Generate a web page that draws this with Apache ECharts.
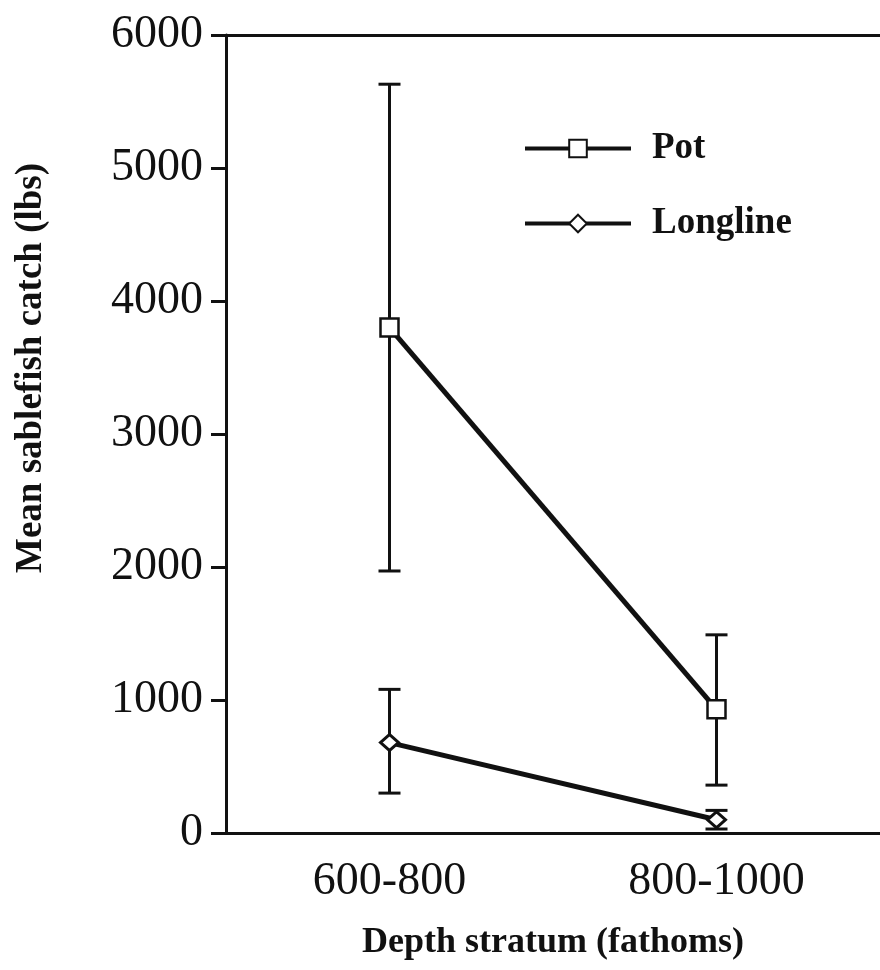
<!DOCTYPE html>
<html>
<head>
<meta charset="utf-8">
<script src="https://cdn.jsdelivr.net/npm/echarts@6/dist/echarts.min.js"></script>
<style>
  html, body { margin: 0; padding: 0; background: #fff; }
  #chart { width: 880px; height: 970px; }
</style>
</head>
<body>
<div id="chart"></div>
<script>
// depth strata on the x axis
const depthStrata = ['600-800', '800-1000'];

// mean catch (lbs) and error bar ends
const potMean = [3800, 930];
const potLow = [1970, 360];
const potHigh = [5630, 1490];
const longlineMean = [680, 100];
const longlineLow = [300, 30];
const longlineHigh = [1080, 170];

const serif = '"Liberation Serif", "DejaVu Serif", serif';
const ink = '#111';

// vertical whisker with caps, drawn through the axes
function errorBars(name, low, high) {
  return {
    type: 'custom',
    name: name + ' error',
    z: 1,
    silent: true,
    data: depthStrata.map((c, i) => [i, low[i], high[i]]),
    encode: { x: 0, y: [1, 2] },
    renderItem: (params, api) => {
      const lo = api.coord([api.value(0), api.value(1)]);
      const hi = api.coord([api.value(0), api.value(2)]);
      const half = 11;
      const style = { stroke: ink, lineWidth: 3, fill: null };
      return {
        type: 'group',
        children: [
          { type: 'line', shape: { x1: hi[0], y1: hi[1], x2: lo[0], y2: lo[1] }, style },
          { type: 'line', shape: { x1: hi[0] - half, y1: hi[1], x2: hi[0] + half, y2: hi[1] }, style },
          { type: 'line', shape: { x1: lo[0] - half, y1: lo[1], x2: lo[0] + half, y2: lo[1] }, style }
        ]
      };
    }
  };
}

const chart = echarts.init(document.getElementById('chart'));

const option = {
  backgroundColor: '#fff',
  animation: false,
  grid: { left: 226, right: 0, top: 35, bottom: 137 },
  legend: {
    data: ['Pot', 'Longline'],
    orient: 'vertical',
    left: 518,
    top: 125,
    itemWidth: 106,
    itemHeight: 22,
    itemGap: 38,
    lineStyle: { width: 4, color: ink },
    textStyle: { fontFamily: serif, fontSize: 37, fontWeight: 'bold', color: ink, padding: [0, 0, 0, 16] }
  },
  xAxis: [
    {
      type: 'category',
      data: depthStrata,
      position: 'bottom',
      axisLine: { lineStyle: { color: ink, width: 3 } },
      axisTick: { alignWithLabel: true, length: 14, lineStyle: { color: ink, width: 3 } },
      axisLabel: { margin: 26, fontFamily: serif, fontSize: 46, color: ink },
      name: 'Depth stratum (fathoms)',
      nameLocation: 'middle',
      nameGap: 92,
      nameTextStyle: { fontFamily: serif, fontSize: 36, fontWeight: 'bold', color: ink }
    },
    {
      type: 'category',
      data: depthStrata,
      position: 'top',
      axisLine: { lineStyle: { color: ink, width: 3 } },
      axisTick: { show: false },
      axisLabel: { show: false }
    }
  ],
  yAxis: {
    type: 'value',
    min: 0,
    max: 6000,
    interval: 1000,
    splitLine: { show: false },
    axisLine: { show: true, lineStyle: { color: ink, width: 3 } },
    axisTick: { show: true, length: 15, lineStyle: { color: ink, width: 3 } },
    axisLabel: { margin: 23, fontFamily: serif, fontSize: 46, color: ink, formatter: v => String(v) },
    name: 'Mean sablefish catch (lbs)',
    nameLocation: 'middle',
    nameRotate: 90,
    nameGap: 176,
    nameTextStyle: { fontFamily: serif, fontSize: 37, fontWeight: 'bold', color: ink, padding: [0, 0, 0, 132] }
  },
  series: [
    errorBars('Pot', potLow, potHigh),
    errorBars('Longline', longlineLow, longlineHigh),
    {
      name: 'Pot',
      type: 'line',
      z: 3,
      data: potMean,
      symbol: 'rect',
      symbolSize: 18,
      lineStyle: { color: ink, width: 5 },
      itemStyle: { color: '#fff', borderColor: ink, borderWidth: 2.5 }
    },
    {
      name: 'Longline',
      type: 'line',
      z: 3,
      data: longlineMean,
      symbol: 'diamond',
      symbolSize: [18, 16],
      lineStyle: { color: ink, width: 5 },
      itemStyle: { color: '#fff', borderColor: ink, borderWidth: 3 }
    }
  ]
};

chart.setOption(option);
</script>
</body>
</html>
